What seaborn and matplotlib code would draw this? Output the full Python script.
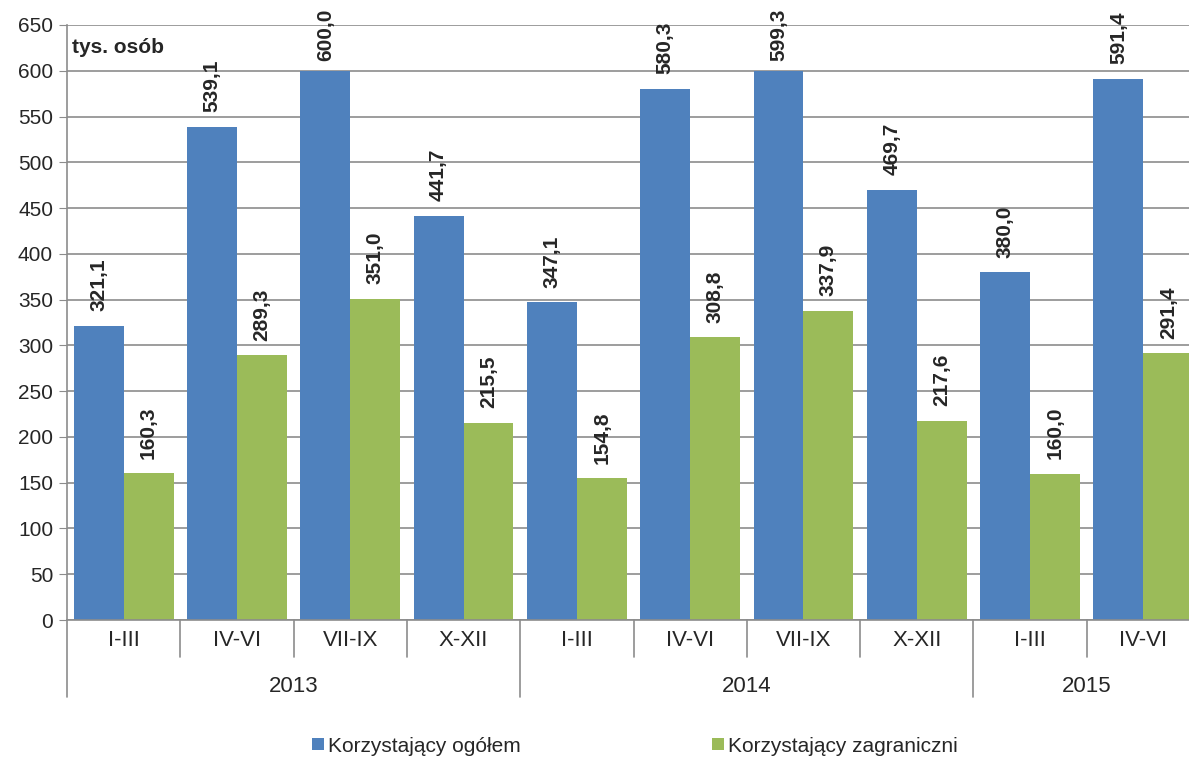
import pandas as pd
import numpy as np
import seaborn as sns
import matplotlib.pyplot as plt
import matplotlib.transforms as mtransforms

# dane kwartalne (tys. osób)
kwartaly = ["I-III", "IV-VI", "VII-IX", "X-XII", "I-III", "IV-VI", "VII-IX", "X-XII", "I-III", "IV-VI"]
lata = ["2013", "2013", "2013", "2013", "2014", "2014", "2014", "2014", "2015", "2015"]
ogolem = [321.1, 539.1, 600.0, 441.7, 347.1, 580.3, 599.3, 469.7, 380.0, 591.4]
zagraniczni = [160.3, 289.3, 351.0, 215.5, 154.8, 308.8, 337.9, 217.6, 160.0, 291.4]

seria1 = "Korzystający ogółem"
seria2 = "Korzystający zagraniczni"

okresy = [f"{r} {k}" for r, k in zip(lata, kwartaly)]
df = pd.DataFrame({
    "okres": okresy * 2,
    "wartosc": ogolem + zagraniczni,
    "seria": [seria1] * len(ogolem) + [seria2] * len(zagraniczni),
})

sns.set_style("white")
plt.rcParams["font.family"] = ["Liberation Sans", "DejaVu Sans"]

fig = plt.figure(figsize=(11.89, 7.58), dpi=100)
ax = fig.add_axes([67 / 1189, 138 / 758, 1133 / 1189, 595 / 758])

sns.barplot(
    data=df, x="okres", y="wartosc", hue="seria", order=okresy,
    palette=["#4F81BD", "#9BBB59"], width=0.88, gap=0, saturation=1,
    edgecolor="none", ax=ax, legend=True,
)

ax.set_xlim(-0.5, len(okresy) - 0.5)
ax.set_ylim(0, 650)
ax.set_yticks(np.arange(0, 651, 50))
ax.yaxis.grid(True, color="#8C8C8C", linewidth=1.2)
ax.set_axisbelow(True)
ax.set_xlabel("")
ax.set_ylabel("")
ax.set_xticks([])
ax.tick_params(axis="y", labelsize=15, length=6, color="#8C8C8C", left=True, pad=4)
for s in ["top", "right"]:
    ax.spines[s].set_visible(False)
for s in ["left", "bottom"]:
    ax.spines[s].set_color("#8C8C8C")
    ax.spines[s].set_linewidth(1.2)

# etykiety wartości (obrócone)
for i, (a, b) in enumerate(zip(ogolem, zagraniczni)):
    for xpos, v in [(i - 0.22, a), (i + 0.22, b)]:
        y = v + 16
        va = "bottom"
        if y + 56 > 668:
            y, va = 668, "top"
        ax.text(xpos, y, f"{v:.1f}".replace(".", ","), rotation=90, ha="center", va=va,
                fontsize=15, fontweight="bold", clip_on=False)

ax.text(0.004, 0.978, "tys. osób", transform=ax.transAxes, fontsize=15,
        fontweight="bold", ha="left", va="top")

# dwupoziomowa oś X
trans = mtransforms.blended_transform_factory(ax.transData, ax.transAxes)
h1 = -37 / 595
h2 = -77 / 595
for i in range(len(okresy) + 1):
    x = i - 0.5
    nowy_rok = i == 0 or i == len(okresy) or lata[i] != lata[i - 1]
    ax.plot([x, x], [0, h2 if nowy_rok else h1], transform=trans, color="#8C8C8C",
            linewidth=1.2, clip_on=False)
for i, k in enumerate(kwartaly):
    ax.text(i, -21 / 595, k, transform=trans, ha="center", va="center", fontsize=16)
for rok in sorted(set(lata)):
    idx = [i for i, r in enumerate(lata) if r == rok]
    ax.text(np.mean(idx), -66 / 595, rok, transform=trans, ha="center", va="center", fontsize=16)

# legenda
handles, labels = ax.get_legend_handles_labels()
ax.get_legend().remove()
fig.legend(handles, labels, loc="center", bbox_to_anchor=(0.534, 12 / 758), ncol=2,
           frameon=False, fontsize=15, handlelength=0.55, handleheight=0.55,
           handletextpad=0.2, columnspacing=9.2)

plt.savefig("out.png", dpi=100)
